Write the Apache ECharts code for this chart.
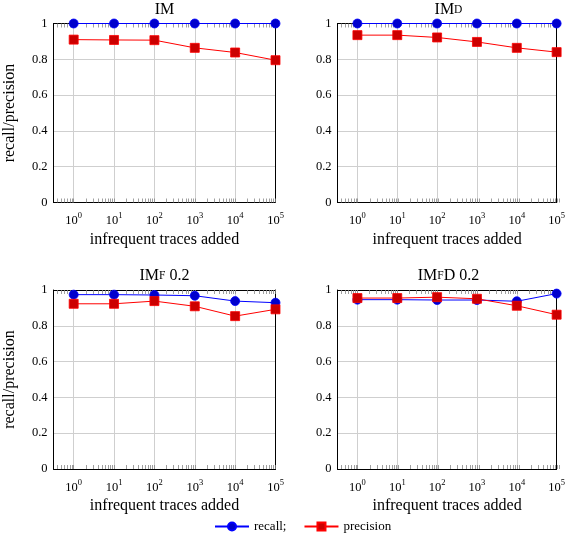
<!DOCTYPE html>
<html>
<head>
<meta charset="utf-8">
<script src="https://cdn.jsdelivr.net/npm/echarts@6/dist/echarts.min.js"></script>
<style>
html,body{margin:0;padding:0;background:#fff;}
#chart{width:568px;height:533px;}
</style>
</head>
<body>
<div id="chart"></div>
<script>
// ---- data ----
const traces = [1, 10, 100, 1000, 10000, 100000];
const tickExponents = [0, 1, 2, 3, 4, 5];
const yTicks = [0, 0.2, 0.4, 0.6, 0.8, 1];

const imRecall = [1, 1, 1, 1, 1, 1];
const imPrecision = [0.910, 0.908, 0.907, 0.864, 0.838, 0.795];
const imdRecall = [1, 1, 1, 1, 1, 1];
const imdPrecision = [0.935, 0.935, 0.922, 0.897, 0.864, 0.840];
const imfRecall = [0.974, 0.974, 0.972, 0.968, 0.938, 0.929];
const imfPrecision = [0.923, 0.923, 0.938, 0.909, 0.854, 0.892];
const imfdRecall = [0.946, 0.946, 0.944, 0.944, 0.937, 0.980];
const imfdPrecision = [0.955, 0.955, 0.960, 0.951, 0.912, 0.862];

const titles = ['{n|IM}', '{n|IM}{s|D}', '{n|IM}{s|F}{n| 0.2}', '{n|IM}{s|F}{n|D 0.2}'];
const recallSets = [imRecall, imdRecall, imfRecall, imfdRecall];
const precisionSets = [imPrecision, imdPrecision, imfPrecision, imfdPrecision];

// ---- layout ----
const FONT = 'Liberation Serif';
const rects = [
  {left: 53.5, top: 23.5, width: 222, height: 179},
  {left: 337.5, top: 23.5, width: 222, height: 179},
  {left: 53.5, top: 290, width: 222, height: 179},
  {left: 337.5, top: 290, width: 222, height: 179}
];
const xMinExp = -0.5, xMaxExp = 5;
// log-scale minor tick positions (k * 10^n), in exponent space
const minorTickExps = [];
for (let n = -1; n <= 4; n++) {
  for (let k = 1; k <= 9; k++) {
    const e = Math.log10(k * Math.pow(10, n));
    if (e >= xMinExp - 1e-9 && e <= xMaxExp + 1e-9) minorTickExps.push(e);
  }
}
minorTickExps.push(xMaxExp);

const grids = [], xAxes = [], yAxes = [], series = [], titleComps = [];
const gridColor = '#cfcfcf';
rects.forEach((r, g) => {
  grids.push(Object.assign({}, r, {containLabel: false}));
  grids.push(Object.assign({}, r, {containLabel: false}));
});
rects.forEach((r, g) => {
  const gi = 2 * g, go = 2 * g + 1;
  // main log x axis (bottom)
  xAxes.push({
    type: 'log', logBase: 10, gridIndex: gi, position: 'bottom',
    min: Math.pow(10, xMinExp), max: Math.pow(10, xMaxExp),
    axisLine: {show: true, onZero: false, lineStyle: {color: '#000', width: 1}},
    axisTick: {show: false},
    axisLabel: {
      showMinLabel: false, margin: 9, color: '#000',
      formatter: v => '{b|10}{s|' + Math.round(Math.log10(v)) + '}',
      rich: {
        b: {fontFamily: FONT, fontSize: 12.5, color: '#000', verticalAlign: 'bottom', lineHeight: 16},
        s: {fontFamily: FONT, fontSize: 8.5, color: '#000', verticalAlign: 'top', lineHeight: 16, padding: [0, 0, 6, 0]}
      }
    },
    splitLine: {show: true, lineStyle: {color: gridColor, width: 1}},
    name: 'infrequent traces added', nameLocation: 'middle', nameGap: 29,
    nameTextStyle: {fontFamily: FONT, fontSize: 16, color: '#000'}
  });
  // top axis with minor ticks
  xAxes.push({
    type: 'value', gridIndex: gi, position: 'top', min: xMinExp, max: xMaxExp,
    axisLine: {show: true, onZero: false, lineStyle: {color: '#000', width: 1}},
    axisTick: {show: true, inside: true, length: 4, customValues: minorTickExps, lineStyle: {color: '#888', width: 0.8}},
    axisLabel: {show: false}, splitLine: {show: false}
  });
  // overlay bottom axis with minor ticks
  xAxes.push({
    type: 'value', gridIndex: go, position: 'bottom', min: xMinExp, max: xMaxExp,
    axisLine: {show: false},
    axisTick: {show: true, inside: true, length: 4, customValues: minorTickExps, lineStyle: {color: '#888', width: 0.8}},
    axisLabel: {show: false}, splitLine: {show: false}
  });
  yAxes.push({
    type: 'value', gridIndex: gi, position: 'left', min: 0, max: 1, interval: 0.2,
    axisLine: {show: true, onZero: false, lineStyle: {color: '#000', width: 1}},
    axisTick: {show: false},
    axisLabel: {margin: 6, color: '#000', fontFamily: FONT, fontSize: 12.5,
      formatter: v => String(+v.toFixed(1))},
    splitLine: {show: true, lineStyle: {color: gridColor, width: 1}},
    name: (g % 2 === 0) ? 'recall/precision' : '', nameLocation: 'middle', nameGap: 36, nameRotate: 90,
    nameTextStyle: {fontFamily: FONT, fontSize: 16, color: '#000'}
  });
  yAxes.push({
    type: 'value', gridIndex: gi, position: 'right', min: 0, max: 1,
    axisLine: {show: true, onZero: false, lineStyle: {color: '#000', width: 1}},
    axisTick: {show: false}, axisLabel: {show: false}, splitLine: {show: false}
  });
  yAxes.push({type: 'value', gridIndex: go, min: 0, max: 1, show: false});

  const xi = 3 * g, yi = 3 * g;
  series.push({
    name: 'recall;', type: 'line', xAxisIndex: xi, yAxisIndex: yi,
    data: traces.map((t, i) => [t, recallSets[g][i]]),
    symbol: 'circle', symbolSize: 9, clip: false, z: 4,
    lineStyle: {color: '#0000ff', width: 1},
    itemStyle: {color: '#0000cc', borderColor: '#0000ff', borderWidth: 0.8},
    emphasis: {disabled: true}, animation: false
  });
  series.push({
    name: 'precision', type: 'line', xAxisIndex: xi, yAxisIndex: yi,
    data: traces.map((t, i) => [t, precisionSets[g][i]]),
    symbol: 'rect', symbolSize: 9, clip: false, z: 5,
    lineStyle: {color: '#ff0000', width: 1},
    itemStyle: {color: '#cc0000', borderColor: '#ff0000', borderWidth: 0.8},
    emphasis: {disabled: true}, animation: false
  });
  titleComps.push({
    text: titles[g], left: r.left + r.width / 2, top: r.top - 22, textAlign: 'center',
    padding: 0,
    textStyle: {
      fontWeight: 'normal',
      rich: {
        n: {fontFamily: FONT, fontSize: 16, fontWeight: 'normal', color: '#000'},
        s: {fontFamily: FONT, fontSize: 11.5, fontWeight: 'normal', color: '#000'}
      }
    }
  });
});

const chart = echarts.init(document.getElementById('chart'), null, {renderer: 'canvas'});
chart.setOption({
  animation: false,
  backgroundColor: '#fff',
  title: titleComps,
  grid: grids,
  xAxis: xAxes,
  yAxis: yAxes,
  legend: {
    data: ['recall;', 'precision'], left: 214, top: 520, padding: 0,
    itemWidth: 34, itemHeight: 10, itemGap: 17,
    textStyle: {fontFamily: FONT, fontSize: 13, color: '#000'},
    selectedMode: false
  },
  series: series
});
</script>
</body>
</html>
